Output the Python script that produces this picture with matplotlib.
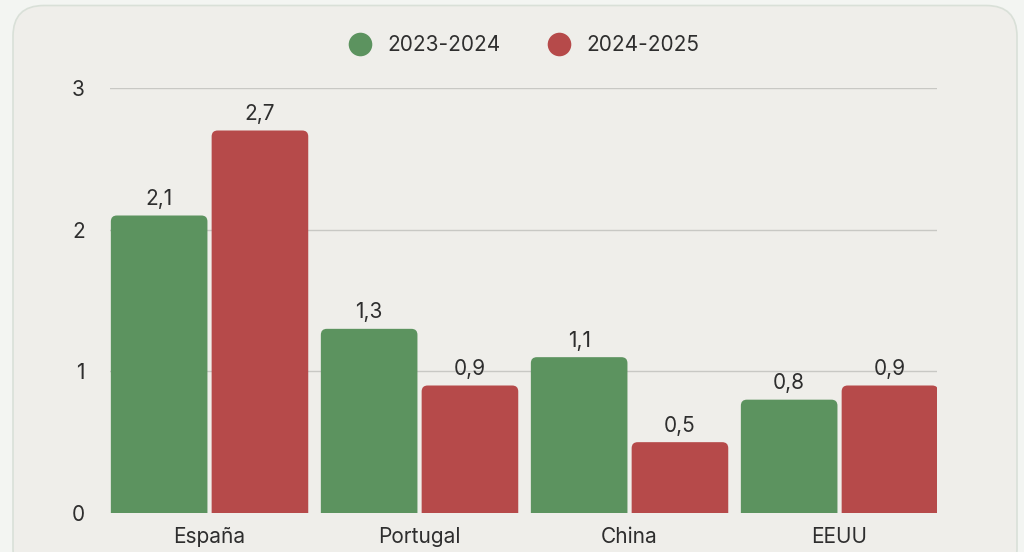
import matplotlib.pyplot as plt
from matplotlib.patches import FancyBboxPatch

# data
countries = ["España", "Portugal", "China", "EEUU"]
series_names = ["2023-2024", "2024-2025"]
values_2324 = [2.1, 1.3, 1.1, 0.8]
values_2425 = [2.7, 0.9, 0.5, 0.9]
y_ticks = [0, 1, 2, 3]

green = "#5c935f"
red = "#b64a4a"
text_col = "#2e2e2e"

plt.rcParams["font.family"] = ["Inter", "DejaVu Sans"]

fig = plt.figure(figsize=(10.24, 5.52), dpi=100)
fig.patch.set_facecolor("#f3f5f2")

# card behind the chart
card = FancyBboxPatch((13 / 1024, -0.05), 1004 / 1024, 1.04,
                      boxstyle="round,pad=0,rounding_size=0.03",
                      transform=fig.transFigure, facecolor="#efeeea",
                      edgecolor="#d9e0d8", linewidth=1.2,
                      mutation_aspect=1024 / 552, zorder=-5)
fig.patches.append(card)

ax = fig.add_axes([110 / 1024, 39 / 552, 827 / 1024, 425 / 552])
ax.set_facecolor("none")
ax.set_xlim(-0.474, 3.464)
ax.set_ylim(0, 3)

width = 0.46
offset = 0.24
# px per unit: x 210, y 141.7 -> keep rounded corners circular
aspect = 210 / 141.7
radius = 6 / 210


def rounded_bars(xs, vals, color):
    for x, v in zip(xs, vals):
        p = FancyBboxPatch((x - width / 2, -0.2), width, v + 0.2,
                           boxstyle=f"round,pad=0,rounding_size={radius}",
                           mutation_aspect=aspect, facecolor=color,
                           edgecolor="none", clip_on=True, zorder=3)
        ax.add_patch(p)
        ax.text(x, v + 0.075, f"{v:.1f}".replace(".", ","), ha="center",
                va="baseline", fontsize=15, color=text_col, zorder=4)


pos = list(range(len(countries)))
rounded_bars([p - offset for p in pos], values_2324, green)
rounded_bars([p + offset for p in pos], values_2425, red)

ax.set_yticks(y_ticks)
ax.set_yticklabels([str(t) for t in y_ticks], fontsize=15, color=text_col)
ax.set_xticks(pos)
ax.set_xticklabels(countries, fontsize=15, color=text_col)
ax.tick_params(axis="y", length=0, pad=18)
ax.tick_params(axis="x", length=0, pad=10)
for t in y_ticks[1:]:
    ax.axhline(t, color="#c8c8c4", linewidth=1, zorder=1)
for s in ax.spines.values():
    s.set_visible(False)

handles = [plt.Line2D([], [], marker="o", linestyle="none", markersize=17,
                      markerfacecolor=c, markeredgecolor="none")
           for c in (green, red)]
fig.legend(handles, series_names, loc="center", bbox_to_anchor=(0.507, 0.918),
           ncol=2, frameon=False, fontsize=15, handletextpad=0.3,
           columnspacing=1.8, labelcolor=text_col)

fig.savefig("out.png", dpi=100, facecolor=fig.get_facecolor())
